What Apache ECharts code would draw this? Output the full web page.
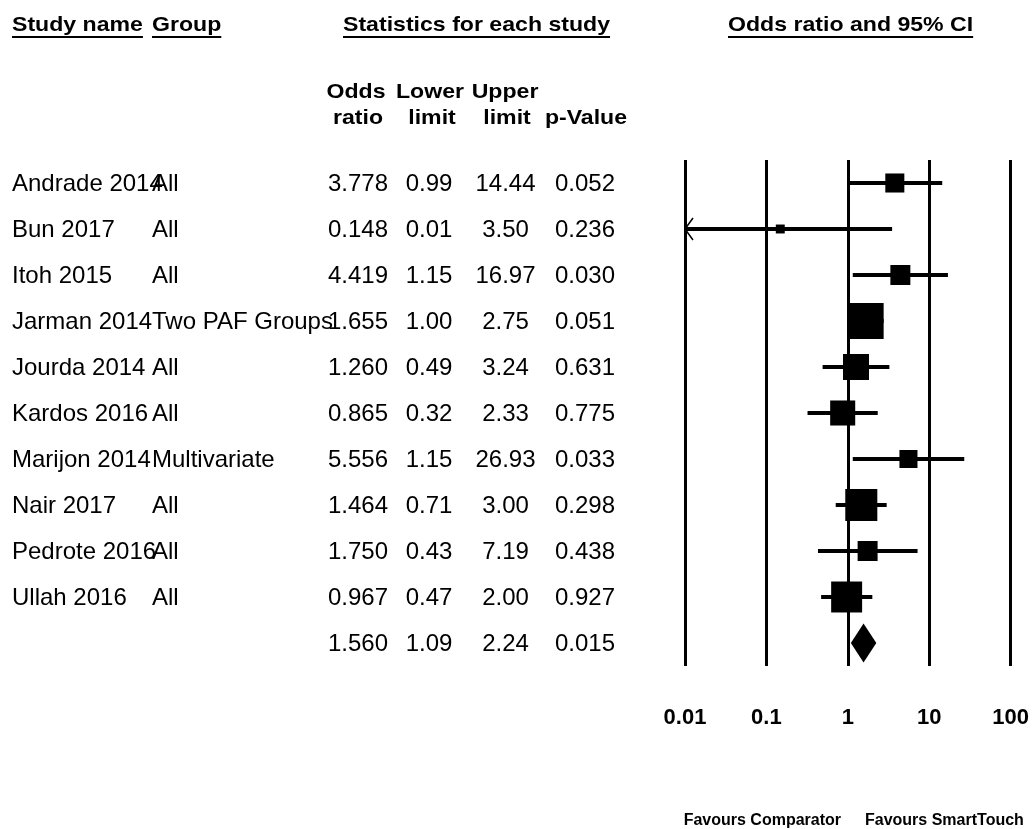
<!DOCTYPE html>
<html>
<head>
<meta charset="utf-8">
<script src="https://cdn.jsdelivr.net/npm/echarts@6/dist/echarts.min.js"></script>
<style>
  html, body { margin: 0; padding: 0; background: #fff; }
  #chart { width: 1032px; height: 829px; }
</style>
</head>
<body>
<div id="chart"></div>
<script>
// Study rows (last row is the pooled estimate)
const studies = ['Andrade 2014', 'Bun 2017', 'Itoh 2015', 'Jarman 2014', 'Jourda 2014', 'Kardos 2016',
                 'Marijon 2014', 'Nair 2017', 'Pedrote 2016', 'Ullah 2016', ''];
const groups = ['All', 'All', 'All', 'Two PAF Groups', 'All', 'All', 'Multivariate', 'All', 'All', 'All', ''];
const oddsRatio = [3.778, 0.148, 4.419, 1.655, 1.260, 0.865, 5.556, 1.464, 1.750, 0.967, 1.560];
const lowerLimit = [0.99, 0.01, 1.15, 1.00, 0.49, 0.32, 1.15, 0.71, 0.43, 0.47, 1.09];
const upperLimit = [14.44, 3.50, 16.97, 2.75, 3.24, 2.33, 26.93, 3.00, 7.19, 2.00, 2.24];
const pValue = [0.052, 0.236, 0.030, 0.051, 0.631, 0.775, 0.033, 0.298, 0.438, 0.927, 0.015];
// Relative weight (%) of each study, sets the box area
const relWeight = [5.9, 1.3, 6.5, 21.1, 11.0, 10.2, 5.3, 16.7, 6.5, 15.6];
const summaryRow = 10;

// Log axis ticks
const axisTicks = [0.01, 0.1, 1, 10, 100];
const tickLabels = ['0.01', '0.1', '1', '10', '100'];

const FONT = '"Liberation Sans", Arial, Helvetica, sans-serif';
const X_MIN = axisTicks[0];
const X_MAX = axisTicks[axisTicks.length - 1];
const BOX_SCALE = 7.84;      // px of box side per sqrt(weight)
const HEAD_SIZE = 21;        // header font size
const HEAD_STRETCH = 1.1;    // headers are set slightly wide
const rowIds = studies.map((_, i) => String(i));

// Table column anchors (x in px) and alignment
const columns = [
  { x: 12,    align: 'left',   text: i => studies[i] },
  { x: 152,   align: 'left',   text: i => groups[i] },
  { x: 358,   align: 'center', text: i => oddsRatio[i].toFixed(3) },
  { x: 429,   align: 'center', text: i => lowerLimit[i].toFixed(2) },
  { x: 505.5, align: 'center', text: i => upperLimit[i].toFixed(2) },
  { x: 585,   align: 'center', text: i => pValue[i].toFixed(3) }
];

function renderTableRow(params, api) {
  const i = params.dataIndex;
  const y = api.coord([0, i])[1] + 1.5;
  return {
    type: 'group',
    children: columns.map(c => ({
      type: 'text',
      x: api.coord([c.x, i])[0],
      y: y,
      style: {
        text: c.text(i), fill: '#000', fontSize: 24, fontFamily: FONT,
        align: c.align, verticalAlign: 'middle'
      }
    }))
  };
}

function renderForestRow(params, api) {
  const i = params.dataIndex;
  const y = api.coord([1, i])[1];
  const xL = api.coord([Math.max(lowerLimit[i], X_MIN), i])[0];
  const xU = api.coord([Math.min(upperLimit[i], X_MAX), i])[0];
  const xOR = api.coord([oddsRatio[i], i])[0];
  const children = [];
  if (i === summaryRow) {
    const h = 19.5;
    children.push({
      type: 'polygon',
      shape: { points: [[xL, y], [xOR, y - h], [xU, y], [xOR, y + h]] },
      style: { fill: '#000' }
    });
  } else {
    children.push({
      type: 'line',
      shape: { x1: xL, y1: y, x2: xU, y2: y },
      style: { stroke: '#000', lineWidth: 4 }
    });
    // arrow heads where the interval runs past the axis
    if (lowerLimit[i] <= X_MIN) {
      children.push({
        type: 'polyline',
        shape: { points: [[xL + 8, y - 11], [xL, y], [xL + 8, y + 11]] },
        style: { stroke: '#000', lineWidth: 1.5, fill: null }
      });
    }
    if (upperLimit[i] >= X_MAX) {
      children.push({
        type: 'polyline',
        shape: { points: [[xU - 8, y - 11], [xU, y], [xU - 8, y + 11]] },
        style: { stroke: '#000', lineWidth: 1.5, fill: null }
      });
    }
    const s = BOX_SCALE * Math.sqrt(relWeight[i]);
    children.push({
      type: 'rect',
      shape: { x: xOR - s / 2, y: y - s / 2, width: s, height: s },
      style: { fill: '#000' }
    });
  }
  return { type: 'group', children };
}

// Header text with an underline measured from the rendered text width
const measureCtx = document.createElement('canvas').getContext('2d');
function headText(text, x, y, align) {
  return { type: 'text', x: x, y: y, scaleX: HEAD_STRETCH,
    style: { text, fill: '#000', fontSize: HEAD_SIZE, fontWeight: 'bold', fontFamily: FONT,
             align: align, verticalAlign: 'middle' } };
}
function underlinedHeader(text, left, y) {
  measureCtx.font = 'bold ' + HEAD_SIZE + 'px ' + FONT;
  const w = measureCtx.measureText(text).width * HEAD_STRETCH;
  return [
    headText(text, left, y, 'left'),
    { type: 'line', shape: { x1: left, y1: y + 12, x2: left + w, y2: y + 12 },
      style: { stroke: '#000', lineWidth: 2 } }
  ];
}
function boldText(text, x, y, size, align) {
  return { type: 'text', x: x, y: y,
    style: { text, fill: '#000', fontSize: size, fontWeight: 'bold', fontFamily: FONT,
             align: align, verticalAlign: 'middle' } };
}

const chart = echarts.init(document.getElementById('chart'), null, { renderer: 'canvas' });

chart.setOption({
  animation: false,
  backgroundColor: '#fff',
  grid: [
    { left: 685, right: 19, top: 160, bottom: 163 },
    { left: 0, right: 0, top: 160, bottom: 163 }
  ],
  xAxis: [
    {
      gridIndex: 0, type: 'log', logBase: 10, min: X_MIN, max: X_MAX,
      axisLine: { show: false }, axisTick: { show: false },
      splitLine: { show: true, lineStyle: { color: '#000', width: 3 } },
      axisLabel: {
        margin: 41, color: '#000', fontSize: 22, fontWeight: 'bold', fontFamily: FONT,
        showMinLabel: true, showMaxLabel: true,
        formatter: v => {
          const k = axisTicks.findIndex(t => Math.abs(Math.log10(t) - Math.log10(v)) < 1e-6);
          return k >= 0 ? tickLabels[k] : '';
        }
      }
    },
    { gridIndex: 1, type: 'value', min: 0, max: 1032, show: false }
  ],
  yAxis: [
    { gridIndex: 0, type: 'category', data: rowIds, inverse: true, show: false },
    { gridIndex: 1, type: 'category', data: rowIds, inverse: true, show: false }
  ],
  series: [
    {
      type: 'custom', xAxisIndex: 0, yAxisIndex: 0, clip: false,
      renderItem: renderForestRow,
      encode: { x: [0, 2, 3], y: 1 },
      data: oddsRatio.map((v, i) => [v, i, Math.max(lowerLimit[i], X_MIN), upperLimit[i]])
    },
    {
      type: 'custom', xAxisIndex: 1, yAxisIndex: 1, clip: false,
      renderItem: renderTableRow,
      encode: { x: 0, y: 1 },
      data: studies.map((_, i) => [0, i])
    }
  ],
  graphic: [
    ...underlinedHeader('Study name', 12, 25),
    ...underlinedHeader('Group', 152, 25),
    ...underlinedHeader('Statistics for each study', 343, 25),
    ...underlinedHeader('Odds ratio and 95% CI', 728, 25),
    headText('Odds', 356, 92, 'center'),
    headText('ratio', 358, 118.5, 'center'),
    headText('Lower', 430, 92, 'center'),
    headText('limit', 432, 118.5, 'center'),
    headText('Upper', 505, 92, 'center'),
    headText('limit', 507, 118.5, 'center'),
    headText('p-Value', 586, 118.5, 'center'),
    boldText('Favours Comparator', 841, 821, 16, 'right'),
    boldText('Favours SmartTouch', 865, 821, 16, 'left')
  ]
});
</script>
</body>
</html>
